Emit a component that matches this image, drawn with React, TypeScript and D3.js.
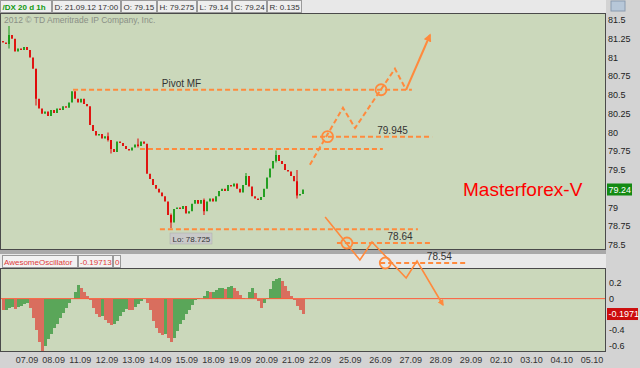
import React from 'react';
import * as d3 from 'd3';

// day labels on the time axis (trading days, then projected days)
const dayLabels = [
  '07.09', '08.09', '11.09', '12.09', '13.09', '14.09', '15.09', '18.09', '19.09', '20.09', '21.09',
  '22.09', '25.09', '26.09', '27.09', '28.09', '29.09', '02.10', '03.10', '04.10', '05.10',
];

// /DX hourly closes (one value every ~3 hours)
const firstOpen = 81.22;
const closes = [
  81.2, 81.18, 81.3, 81.25, 81.08, 81.12, 81.1, 81.14, 81.1, 81.0,
  80.85, 80.45, 80.32, 80.25, 80.28, 80.22, 80.3, 80.26, 80.32, 80.3,
  80.35, 80.33, 80.4, 80.55, 80.45, 80.4, 80.45, 80.38, 80.35, 80.1,
  80.02, 79.96, 79.98, 79.92, 79.95, 79.9, 79.78, 79.74, 79.88, 79.86,
  79.82, 79.78, 79.76, 79.8, 79.84, 79.82, 79.88, 79.85, 79.45, 79.38,
  79.3, 79.25, 79.2, 79.15, 79.08, 78.9, 78.8, 78.98, 79.0, 78.98,
  79.02, 78.92, 78.95, 79.05, 79.1, 79.05, 79.1, 78.95, 79.08, 79.12,
  79.08, 79.15, 79.22, 79.25, 79.22, 79.3, 79.28, 79.32, 79.25, 79.2,
  79.3, 79.42, 79.28, 79.15, 79.12, 79.1, 79.14, 79.25, 79.4, 79.52,
  79.62, 79.7, 79.62, 79.58, 79.5, 79.48, 79.42, 79.35, 79.16, 79.18,
  79.24,
];

// notable wicks
const spikes = [
  { i: 2, high: 81.42, low: 81.12 },
  { i: 11, high: 80.85, low: 80.36 },
  { i: 35, high: 80.0, low: 79.88 },
  { i: 36, high: 79.9, low: 79.72 },
  { i: 45, high: 79.92, low: 79.8 },
  { i: 56, high: 78.92, low: 78.725 },
  { i: 67, high: 79.12, low: 78.9 },
  { i: 81, high: 79.46, low: 79.3 },
  { i: 91, high: 79.76, low: 79.6 },
  { i: 98, high: 79.5, low: 79.12 },
];

// Awesome Oscillator histogram, same bars as the candles
const aoValues = [
  -0.15, -0.14, -0.12, -0.11, -0.13, -0.11, -0.09, -0.07, -0.05, -0.12,
  -0.25, -0.4, -0.55, -0.67, -0.6, -0.52, -0.45, -0.38, -0.32, -0.25,
  -0.18, -0.12, -0.06, -0.01, 0.08, 0.18, 0.14, 0.08, 0.03, -0.02,
  -0.12, -0.2, -0.24, -0.22, -0.27, -0.31, -0.34, -0.32, -0.28, -0.22,
  -0.17, -0.13, -0.14, -0.15, -0.11, -0.07, -0.03, -0.01, -0.06, -0.15,
  -0.28, -0.38, -0.44, -0.47, -0.45, -0.5, -0.55, -0.5, -0.42, -0.33,
  -0.27, -0.2, -0.14, -0.08, -0.02, 0.01, -0.01, 0.04, 0.1, 0.08,
  0.09, 0.11, 0.13, 0.14, 0.12, 0.15, 0.16, 0.14, 0.1, 0.05,
  0.01, -0.01, 0.08, 0.14, 0.07, -0.03, -0.12, -0.06, 0.01, 0.12,
  0.22, 0.25, 0.27, 0.22, 0.16, 0.1, 0.04, -0.02, -0.09, -0.15,
  -0.2,
];

// 79.25 and -0.2 sit under the current-value boxes and are not shown
const priceTicks = [81.5, 81.25, 81, 80.75, 80.5, 80.25, 80, 79.75, 79.5, 79, 78.75, 78.5];
const aoTicks = [0.2, 0, -0.4, -0.6];

const headerCells = [
  { text: '/DX 20 d 1h', x0: 0, x1: 52, color: '#119911', bold: true },
  { text: 'D: 21.09.12 17:00', x0: 52, x1: 121, color: '#333', bold: false },
  { text: 'O: 79.15', x0: 121, x1: 157, color: '#333', bold: false },
  { text: 'H: 79.275', x0: 157, x1: 197, color: '#333', bold: false },
  { text: 'L: 79.14', x0: 197, x1: 232, color: '#333', bold: false },
  { text: 'C: 79.24', x0: 232, x1: 267, color: '#333', bold: false },
  { text: 'R: 0.135', x0: 267, x1: 302, color: '#333', bold: false },
];
const oscCells = [
  { text: 'AwesomeOscillator', x0: 2, x1: 78 },
  { text: '-0.19713', x0: 78, x1: 113 },
  { text: '0', x0: 113, x1: 121 },
];

// drawn forecast: [day position, price]
const pivotLine = { price: 80.57, from: 1.73, to: 14.04, label: 'Pivot MF', at: 5.8 };
const levelLines = [
  { price: 79.78, from: 4.24, to: 13.08, label: '', at: 0 },
  { price: 79.945, from: 10.7, to: 14.71, label: '79.945', at: 13.4 },
  { price: 78.71, from: 4.99, to: 14.24, label: '', at: 0 },
  { price: 78.527, from: 11.56, to: 14.67, label: '78.64', at: 13.65 },
  { price: 78.26, from: 12.99, to: 15.87, label: '78.54', at: 14.95 },
];
const upPath = [[10.62, 79.57], [11.76, 80.33], [12.16, 80.06], [13.48, 80.85], [13.85, 80.57]];
const upArrow = [[13.85, 80.57], [14.64, 81.3]];
const upCircles = [[11.25, 79.945], [13.02, 80.57]];
const downPath = [[11.17, 78.873], [12.32, 78.3], [12.72, 78.54], [13.85, 78.06], [14.21, 78.287], [15.07, 77.7]];
const downCircles = [[11.89, 78.527], [13.16, 78.26]];

const PLOT_R = 606;
const PLOT_BG = '#cbd8bb';
const ORANGE = '#ff8a3d';
const GREEN = '#129a12';
const RED = '#e10000';
const FONT = '"Liberation Sans", Arial, sans-serif';

export default function App() {
  const dayX = d3.scaleLinear().domain([0, 11, 20]).range([27, 320, 592]);
  const barX = d3.scaleLinear().domain([0, closes.length - 1]).range([3, 303]);
  const priceY = d3.scaleLinear().domain([78.5, 81.5]).range([245, 20]);
  const aoY = d3.scaleLinear().domain([-0.6, 0.2]).range([345.5, 283]);

  const line = d3.line<number[]>().x(d => dayX(d[0])).y(d => priceY(d[1]));
  const step = barX(1) - barX(0);

  const candles = closes.map((c, i) => {
    const o = i === 0 ? firstOpen : closes[i - 1];
    return { i, o, c, up: c >= o };
  });

  return (
    <svg width={640} height={368} style={{ position: 'absolute', left: 0, top: 0, fontFamily: FONT }}>
      <defs>
        <marker id="arrow" viewBox="0 0 10 10" refX="8" refY="5" markerWidth="4" markerHeight="4" orient="auto">
          <path d="M0,0 L10,5 L0,10 z" fill={ORANGE} />
        </marker>
      </defs>
      <rect x={0} y={0} width={640} height={368} fill="#d3d3d3" />

      {/* header */}
      <rect x={0} y={0} width={PLOT_R} height={13} fill="#e8e8e8" />
      {headerCells.map(h => (
        <g key={h.text}>
          <rect x={h.x0 + 0.5} y={0.5} width={h.x1 - h.x0 - 1} height={12} fill="#eeeeee" stroke="#9a9a9a" />
          <text x={h.x0 + 2.5} y={10} fontSize={8} fill={h.color} fontWeight={h.bold ? 'bold' : 'normal'}>{h.text}</text>
        </g>
      ))}
      <rect x={611} y={1} width={14} height={10} fill="#b7c7d8" stroke="#8a9bb0" />

      {/* price panel */}
      <rect x={0.5} y={13.5} width={PLOT_R - 1} height={236} fill={PLOT_BG} stroke="#4a4a4a" />
      <text x={4} y={23} fontSize={8.5} fill="#8a8f86">2012 © TD Ameritrade IP Company, Inc.</text>

      {candles.map(d => (
        <rect key={d.i} x={barX(d.i) - 0.9} width={1.8}
          y={priceY(Math.max(d.o, d.c))}
          height={Math.max(1, Math.abs(priceY(d.o) - priceY(d.c)))}
          fill={d.up ? GREEN : RED} />
      ))}
      {spikes.map(s => (
        <line key={s.i} x1={barX(s.i)} x2={barX(s.i)} y1={priceY(s.high)} y2={priceY(s.low)}
          stroke={candles[s.i].up ? GREEN : RED} strokeWidth={1} />
      ))}

      {priceTicks.map(t => (
        <text key={t} x={608} y={priceY(t)} dy="0.35em" fontSize={9} fill="#222">{String(t)}</text>
      ))}
      <rect x={607} y={priceY(79.24) - 6} width={25} height={12} fill="#138a13" />
      <text x={608.5} y={priceY(79.24)} dy="0.35em" fontSize={9} fill="#fff">79.24</text>

      {/* separator and oscillator strip */}
      <rect x={0} y={250} width={PLOT_R} height={4} fill="#a9a9a9" />
      <rect x={0} y={254} width={PLOT_R} height={14} fill="#e9e9e9" />
      {oscCells.map(h => (
        <g key={h.text}>
          <rect x={h.x0 + 0.5} y={255.5} width={h.x1 - h.x0 - 1} height={12} fill="#f2f2f2" stroke="#9a9a9a" />
          <text x={h.x0 + 2} y={265} fontSize={8} fill="#e03a3a">{h.text}</text>
        </g>
      ))}

      {/* oscillator panel */}
      <rect x={0.5} y={268.5} width={PLOT_R - 1} height={83} fill={PLOT_BG} stroke="#4a4a4a" />
      <g shapeRendering="crispEdges">
        {aoValues.map((v, i) => {
          const up = i > 0 && v >= aoValues[i - 1];
          return (
            <rect key={i} x={barX(i) - step / 2} width={step + 0.4}
              y={aoY(Math.max(v, 0))} height={Math.abs(aoY(v) - aoY(0))}
              fill={up ? '#5aa659' : '#d96e5e'} />
          );
        })}
      </g>
      <line x1={1} x2={PLOT_R - 1} y1={aoY(0)} y2={aoY(0)} stroke="#ff5c3a" strokeWidth={1} />
      {aoTicks.map(t => (
        <text key={t} x={609} y={aoY(t)} dy="0.35em" fontSize={9} fill="#222">{String(t)}</text>
      ))}
      <rect x={607} y={aoY(-0.1971) - 6} width={31} height={12} fill="#cc0d0d" />
      <text x={608.5} y={aoY(-0.1971)} dy="0.35em" fontSize={9} fill="#fff">-0.1971</text>

      {/* time axis */}
      {dayLabels.map((d, i) => (
        <text key={d} x={dayX(i)} y={363} textAnchor="middle" fontSize={9} fill="#333">{d}</text>
      ))}

      {/* forecast drawing */}
      {[pivotLine, ...levelLines].map((l, k) => (
        <g key={k}>
          <line x1={dayX(l.from)} x2={dayX(l.to)} y1={priceY(l.price)} y2={priceY(l.price)}
            stroke={ORANGE} strokeWidth={2} strokeDasharray="5,3" />
          {l.label && (
            <text x={dayX(l.at)} y={priceY(l.price) - 3} textAnchor="middle" fontSize={10} fill="#333">{l.label}</text>
          )}
        </g>
      ))}
      <path d={line(upPath) ?? ''} fill="none" stroke={ORANGE} strokeWidth={2} strokeDasharray="5,3" />
      <path d={line(upArrow) ?? ''} fill="none" stroke={ORANGE} strokeWidth={2} markerEnd="url(#arrow)" />
      <path d={line(downPath) ?? ''} fill="none" stroke={ORANGE} strokeWidth={1.6} markerEnd="url(#arrow)" />
      {[...upCircles, ...downCircles].map((c, k) => (
        <circle key={k} cx={dayX(c[0])} cy={priceY(c[1])} r={5.5} fill="none" stroke={ORANGE} strokeWidth={1.8} />
      ))}

      <text x={463} y={196} fontSize={19} fill="#ff0000">Masterforex-V</text>

      <rect x={170} y={233} width={42} height={11} fill="#c9c9c9" stroke="#aaa" strokeWidth={0.5} />
      <text x={172.5} y={241.5} fontSize={8} fill="#333">Lo: 78.725</text>
    </svg>
  );
}
